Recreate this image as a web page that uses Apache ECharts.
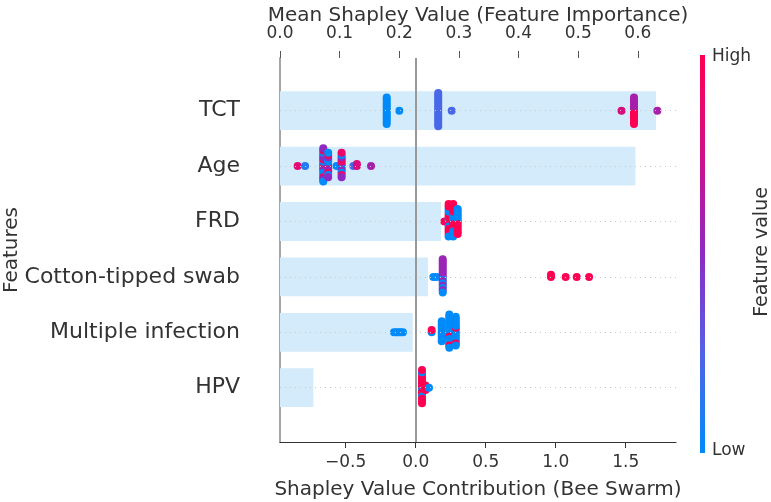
<!DOCTYPE html>
<html>
<head>
<meta charset="utf-8">
<script src="https://cdn.jsdelivr.net/npm/echarts@6/dist/echarts.min.js"></script>
<style>
  html, body { margin: 0; padding: 0; background: #fff; }
  #chart { width: 771px; height: 502px; }
</style>
</head>
<body>
<div id="chart"></div>
<script>
// rows from bottom (0) to top (5)
const features = ["HPV", "Multiple infection", "Cotton-tipped swab", "FRD", "Age", "TCT"];
const meanShap = [0.056, 0.2225, 0.248, 0.270, 0.596, 0.6305];

const topTicks = [0, 0.1, 0.2, 0.3, 0.4, 0.5, 0.6];
const bottomTicks = [-0.5, 0, 0.5, 1.0, 1.5];

// beeswarm points: [shap value, feature value (0 low .. 1 high), count]
const hpvPts = [[0.045, 1, 13], [0.045, 0, 3], [0.07, 1, 3], [0.095, 0, 1]];
const multiPts = [
  [-0.155, 0, 1], [-0.139, 0, 1], [-0.123, 0, 1], [-0.107, 0, 1], [-0.091, 0, 1],
  [0.114, 0, 1], [0.114, 1, 1], [0.186, 0, 10],
  [0.24, 0, 14], [0.24, 1, 2], [0.286, 0, 12], [0.286, 1, 2]
];
const cottonPts = [
  [0.126, 0, 1], [0.15, 0, 1], [0.193, 0.55, 12], [0.193, 0, 4],
  [0.966, 1, 2], [1.071, 1, 1], [1.15, 1, 1], [1.238, 1, 1]
];
const frdPts = [
  [0.205, 1, 1], [0.235, 1, 9], [0.235, 0, 5],
  [0.268, 1, 8], [0.268, 0, 6], [0.3, 1, 6], [0.3, 0, 5]
];
const agePts = [
  [-0.843, 0.85, 1], [-0.79, 0.1, 1],
  [-0.66, 0, 6], [-0.66, 0.5, 6], [-0.66, 0.9, 4],
  [-0.625, 0, 5], [-0.625, 0.5, 4], [-0.625, 0.9, 3],
  [-0.565, 0, 1],
  [-0.529, 0.9, 5], [-0.529, 0.5, 4], [-0.529, 0, 3],
  [-0.445, 0.2, 1], [-0.42, 0.8, 2], [-0.319, 0.6, 1]
];
const tctPts = [
  [-0.207, 0, 13], [-0.117, 0, 1], [0.161, 0.22, 16], [0.257, 0.22, 1],
  [1.47, 0.8, 1], [1.559, 1, 7], [1.559, 0.6, 6], [1.726, 0.6, 1]
];
const rowPoints = [hpvPts, multiPts, cottonPts, frdPts, agePts, tctPts];

const colorStops = ["#008bfb", "#5262e6", "#8e2ac2", "#d00f88", "#ff0052"];

// shap-like beeswarm layout: bin the x values, stack points alternately up/down
function swarm(clusters, row) {
  const byX = {};
  clusters.forEach(([x, fv, n]) => {
    for (let k = 0; k < n; k++) {
      (byX[x] = byX[x] || []).push({ x: x, fv: fv, key: (k + 0.5) / n });
    }
  });
  let pts = [];
  Object.keys(byX).forEach((k) => {
    pts = pts.concat(byX[k].sort((a, b) => a.key - b.key));
  });
  const xs = pts.map((p) => p.x);
  const lo = Math.min(...xs), hi = Math.max(...xs);
  pts.forEach((p) => { p.q = Math.round(100 * (p.x - lo) / (hi - lo + 1e-8)); });
  pts.sort((a, b) => a.q - b.q);
  let layer = 0, last = -1;
  pts.forEach((p) => {
    if (p.q !== last) layer = 0;
    p.ys = Math.ceil(layer / 2) * ((layer % 2) * 2 - 1);
    layer++;
    last = p.q;
  });
  const maxYs = Math.max(...pts.map((p) => p.ys));
  return pts.map((p) => [p.x, row + p.ys * 0.9 * 0.4 / (maxYs + 1), p.fv]);
}

let swarmData = [];
rowPoints.forEach((pts, i) => { swarmData = swarmData.concat(swarm(pts, i)); });

const barData = meanShap.map((v, i) => [v, i]);

const myChart = echarts.init(document.getElementById("chart"));
const textColor = "#333";
const fmt = (v) => (v < 0 ? "\u2212" : "") + Math.abs(v).toFixed(1);

myChart.setOption({
  animation: false,
  textStyle: { fontFamily: "DejaVu Sans" },
  grid: { left: 280, right: 95, top: 58, bottom: 60, outerBoundsMode: "none", containLabel: false },
  xAxis: [
    {
      type: "value",
      position: "bottom",
      min: -0.969,
      max: 1.859,
      axisLine: { show: true, onZero: false, lineStyle: { color: "#333", width: 1.2 } },
      axisTick: { show: true, customValues: bottomTicks, length: 6, lineStyle: { color: "#333" } },
      axisLabel: { customValues: bottomTicks, formatter: fmt, fontSize: 17, color: textColor, margin: 12 },
      splitLine: { show: false },
      name: "Shapley Value Contribution (Bee Swarm)",
      nameLocation: "middle",
      nameGap: 38,
      nameMoveOverlap: false,
      nameTextStyle: { fontSize: 20, color: textColor },
    },
    {
      type: "value",
      position: "top",
      min: 0,
      max: 0.664,
      axisLine: { show: false, onZero: false },
      axisTick: { show: true, customValues: topTicks, length: 7, lineStyle: { color: "#555" } },
      axisLabel: { customValues: topTicks, formatter: (v) => v.toFixed(1), fontSize: 17, color: textColor, margin: 16 },
      splitLine: { show: false },
      name: "Mean Shapley Value (Feature Importance)",
      nameLocation: "middle",
      nameGap: 32,
      nameMoveOverlap: false,
      nameTextStyle: { fontSize: 20, color: textColor },
    },
  ],
  yAxis: {
    type: "value",
    min: -0.98,
    max: 5.951,
    axisLine: { show: true, onZero: false, lineStyle: { color: "#a6a6a6", width: 2 } },
    axisTick: { show: false },
    axisLabel: {
      customValues: [0, 1, 2, 3, 4, 5],
      formatter: (v) => features[Math.round(v)],
      fontSize: 22,
      color: textColor,
      margin: 40,
    },
    splitLine: { show: false },
    name: "Features",
    nameLocation: "middle",
    nameGap: 258,
    nameMoveOverlap: false,
    nameTextStyle: { fontSize: 20, color: textColor },
  },
  visualMap: {
    show: false,
    type: "continuous",
    seriesIndex: 2,
    dimension: 2,
    min: 0,
    max: 1,
    inRange: { color: colorStops },
  },
  series: [
    {
      // mean |shap| bars on the top axis
      type: "custom",
      xAxisIndex: 1,
      yAxisIndex: 0,
      z: 1,
      silent: true,
      encode: { x: 0, y: 1 },
      data: barData,
      renderItem: function (params, api) {
        const start = api.coord([0, api.value(1)]);
        const end = api.coord([api.value(0), api.value(1)]);
        const h = api.size([0, 0.7])[1];
        return {
          type: "rect",
          shape: { x: start[0], y: start[1] - h / 2, width: end[0] - start[0], height: h },
          style: { fill: "#d3ebfb" },
        };
      },
    },
    {
      // guide lines: row lines and the zero line of the swarm axis
      type: "line",
      xAxisIndex: 0,
      yAxisIndex: 0,
      z: 2,
      data: [],
      markLine: {
        silent: true,
        symbol: ["none", "none"],
        label: { show: false },
        data: [0, 1, 2, 3, 4, 5].map((i) => ({
          yAxis: i,
          lineStyle: { color: "#c8c8c8", type: [1, 4], width: 1 },
        })).concat([{ xAxis: 0, lineStyle: { color: "#999", type: "solid", width: 2 } }]),
      },
    },
    {
      type: "scatter",
      xAxisIndex: 0,
      yAxisIndex: 0,
      z: 3,
      symbolSize: 8,
      itemStyle: { opacity: 1 },
      data: swarmData,
    },
  ],
  graphic: [
    {
      type: "rect",
      shape: { x: 700, y: 55, width: 5, height: 398 },
      style: {
        fill: new echarts.graphic.LinearGradient(0, 0, 0, 1, colorStops.slice().reverse().map((c, i) => ({ offset: i / 4, color: c }))),
      },
    },
    { type: "text", x: 712, y: 57, style: { text: "High", fontSize: 17, fill: textColor, verticalAlign: "middle", fontFamily: "DejaVu Sans" } },
    { type: "text", x: 712, y: 451, style: { text: "Low", fontSize: 17, fill: textColor, verticalAlign: "middle", fontFamily: "DejaVu Sans" } },
    {
      type: "text",
      x: 762,
      y: 252,
      rotation: Math.PI / 2,
      style: { text: "Feature value", fontSize: 19, fill: textColor, align: "center", verticalAlign: "middle", fontFamily: "DejaVu Sans" },
    },
  ],
});

window.addEventListener("resize", () => {
  myChart.resize();
});
</script>
</body>
</html>
